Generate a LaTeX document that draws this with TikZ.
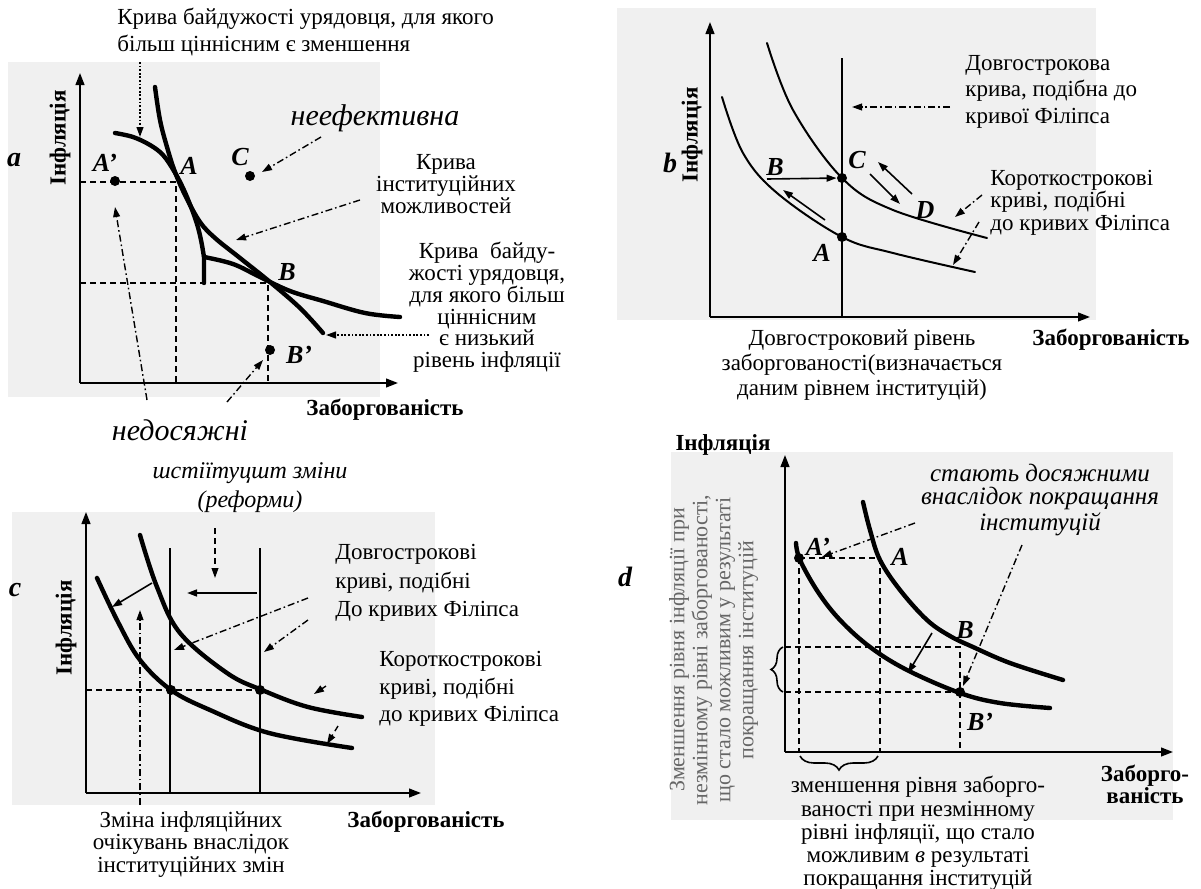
\documentclass[tikz,border=0pt]{standalone}
\usepackage{fontspec}
\setmainfont{Liberation Serif}
\usetikzlibrary{arrows.meta,decorations.pathreplacing}
\newcommand\myfs[2]{\fontsize{#1}{#2}\selectfont}
\tikzset{
  axis/.style={line width=0.9pt,-{Triangle[length=6pt,width=4.4pt]}},
  heavy/.style={line width=2.2pt,line cap=round},
  medium/.style={line width=1pt,line cap=round},
  thinl/.style={line width=0.8pt},
  dashl/.style={line width=0.7pt,dash pattern=on 3pt off 2pt},
  dashdotl/.style={line width=0.7pt,dash pattern=on 3.5pt off 1.5pt on 0.8pt off 1.5pt},
  dotl/.style={line width=0.9pt,dash pattern=on 0.9pt off 0.9pt},
  tipa/.style={-{Triangle[length=5pt,width=3.4pt]}},
  pt/.style={circle,fill=black,inner sep=0pt,minimum size=5pt},
  ptlbl/.style={font=\myfs{13}{13}\bfseries\itshape,inner sep=0pt},
  plbl/.style={font=\myfs{14}{14}\bfseries\itshape,inner sep=0pt},
  body/.style={inner sep=0pt,font=\myfs{11.5}{13.5}},
  axlbl/.style={inner sep=0pt,font=\myfs{11.5}{13}\bfseries},
  emphl/.style={inner sep=0pt,font=\myfs{15}{17}\itshape},
  paper/.style={fill=black!6,draw=none},
}
\begin{document}
\begin{tikzpicture}[x=0.5pt,y=-0.5pt]
\useasboundingbox (0,0) rectangle (1201,889);
% scanned paper
\fill[paper] (8,62) rectangle (380,397);
\fill[paper] (617,8) rectangle (1096,320);
\fill[paper] (12,512) rectangle (435,805);
\fill[paper] (671,452) rectangle (1173,820);

% ================= panel a
\node[body,anchor=west,align=left] (aTitle) at (117,31.5) {Крива байдужості урядовця, для якого\\більш ціннісним є зменшення};
\coordinate (aT1) at (140,62); \coordinate (aT2) at (140,137);
\draw[dotl,tipa] (aT1) -- (aT2);
\coordinate (aO) at (80,383); \coordinate (aY) at (80,73); \coordinate (aX) at (398,383);
\draw[axis] (aO) -- (aY);
\draw[axis] (aO) -- (aX);
\node[axlbl,rotate=90] (aYl) at (60,138) {Інфляція};
\node[plbl] (aName) at (14,160) {a};
\draw[dashl] (80,182) -- (176,182) -- (176,383);
\draw[dashl] (80,283) -- (268,283) -- (268,383);
\draw[heavy] plot[smooth,tension=0.6] coordinates {(155,87) (160,120) (167,147) (175,172) (186,197) (200,222) (215,238) (240,258) (270,282) (300,308) (323,333)};
\draw[heavy] plot[smooth,tension=0.6] coordinates {(115,133) (133,137) (150,145) (163,155) (174,171) (183,188) (191,207) (197,224) (201,240) (204,257)} -- (204,283);
\draw[heavy] plot[smooth,tension=0.6] coordinates {(204,257) (233,264) (260,277) (290,291) (323,301) (365,313) (400,317)};
\node[pt] (aAp) at (115,181) {};
\node[pt] (aC) at (250,176) {};
\node[pt] (aBp) at (270,350) {};
\node[ptlbl] (aAplbl) at (105,163) {A'};
\node[ptlbl] (aAlbl) at (189,166) {A};
\node[ptlbl] (aClbl) at (240,157) {C};
\node[ptlbl] (aBlbl) at (287,272) {B};
\node[ptlbl] (aBplbl) at (299,355) {B'};
\node[emphl] (aIneff) at (375,118) {неефективна};
\node[body,align=center,font=\myfs{11.5}{10.9}] (aIPC) at (446,184) {Крива\\інституційних\\можливостей};
\node[body,align=center,font=\myfs{11.5}{10.9}] (aIC) at (487,307.5) {Крива\ \ байду-\\жості урядовця,\\для якого більш\\ціннісним\\є низький\\рівень інфляції};
\node[axlbl] (aXl) at (385,410) {Заборгованість};
\node[emphl] (aUnr) at (180,430) {недосяжні};
\coordinate (aI1) at (321,137); \coordinate (aI2) at (262,172);
\draw[dashdotl,tipa] (aI1) -- (aI2);
\coordinate (aP1) at (360,200); \coordinate (aP2) at (236,240);
\draw[dashdotl,tipa] (aP1) -- (aP2);
\coordinate (aL1) at (429,335); \coordinate (aL2) at (326,335);
\draw[dotl,tipa] (aL1) -- (aL2);
\coordinate (aU1) at (147,400); \coordinate (aU2) at (115,207);
\draw[dashdotl,tipa] (aU1) -- (aU2);
\coordinate (aV1) at (227,402); \coordinate (aV2) at (263,360);
\draw[dashdotl,tipa] (aV1) -- (aV2);

% ================= panel b
\coordinate (bO) at (710,317); \coordinate (bY) at (710,22); \coordinate (bX) at (1090,317);
\draw[axis] (bO) -- (bY);
\draw[axis] (bO) -- (bX);
\node[axlbl,rotate=90] (bYl) at (692,135) {Інфляція};
\node[plbl] (bName) at (670,163) {b};
\coordinate (bV1) at (842,58); \coordinate (bV2) at (842,317);
\draw[line width=0.7pt] (bV1) -- (bV2);
\draw[medium] plot[smooth,tension=0.6] coordinates {(722,97) (743,153) (777,193) (842,237) (893,253) (975,272)};
\draw[medium] plot[smooth,tension=0.6] coordinates {(767,43) (793,110) (842,178) (893,210) (987,238)};
\node[pt] (bC) at (842,178) {};
\node[pt] (bA) at (842,237) {};
\node[ptlbl] (bBlbl) at (775,167) {B};
\node[ptlbl] (bClbl) at (857,160) {C};
\node[ptlbl] (bAlbl) at (822,253) {A};
\node[ptlbl] (bDlbl) at (925,210) {D};
\coordinate (bB1) at (767,179);
\draw[thinl,tipa] (bB1) -- (bC);
\coordinate (bk1) at (870,174); \coordinate (bk2) at (900,204);
\draw[thinl,tipa] (bk1) -- (bk2);
\coordinate (bk3) at (912,194); \coordinate (bk4) at (878,162);
\draw[thinl,tipa] (bk3) -- (bk4);
\coordinate (bk5) at (825,220); \coordinate (bk6) at (783,190);
\draw[thinl,tipa] (bk5) -- (bk6);
\coordinate (bL1) at (950,107); \coordinate (bL2) at (852,107);
\draw[dashdotl,tipa] (bL1) -- (bL2);
\coordinate (bS1) at (982,195); \coordinate (bS2) at (955,217);
\draw[dashdotl,tipa] (bS1) -- (bS2);
\coordinate (bS3) at (979,222); \coordinate (bS4) at (953,265);
\draw[dashdotl,tipa] (bS3) -- (bS4);
\node[body,align=left,anchor=west,font=\myfs{11.5}{13.25}] (bLR) at (965,91.7) {Довгострокова\\крива, подібна до\\кривої Філіпса};
\node[body,align=left,anchor=west,font=\myfs{11.5}{11.25}] (bSR) at (990,202.7) {Короткострокові\\криві, подібні\\до кривих Філіпса};
\node[body,align=center,font=\myfs{11.5}{12.5}] (bLev) at (862,365) {Довгостроковий рівень\\заборгованості(визначається\\даним рівнем інституцій)};
\node[axlbl] (bXl) at (1111,340) {Заборгованість};

% ================= panel c
\node[body,align=center,font=\myfs{12}{14.5}\itshape] (cRef) at (250,487.5) {шстіїтуцшт зміни\\(реформи)};
\coordinate (cO) at (86,793); \coordinate (cY) at (86,512); \coordinate (cX) at (421,793);
\draw[axis] (cO) -- (cY);
\draw[axis] (cO) -- (cX);
\node[axlbl,rotate=90] (cYl) at (66,628) {Інфляція};
\node[plbl] (cName) at (15,590) {c};
\coordinate (cL1a) at (170,548); \coordinate (cL1b) at (170,793);
\coordinate (cL2a) at (260,548); \coordinate (cL2b) at (260,793);
\draw[line width=1pt] (cL1a) -- (cL1b);
\draw[line width=1pt] (cL2a) -- (cL2b);
\draw[dashl] (86,690) -- (260,690);
\draw[heavy] plot[smooth,tension=0.6] coordinates {(97,578) (118,622) (140,660) (171,690) (210,710) (269,733) (352,748)};
\draw[heavy] plot[smooth,tension=0.6] coordinates {(140,535) (157,587) (180,633) (227,673) (262,690) (308,707) (362,717)};
\node[pt] (cP1) at (171,690) {};
\node[pt] (cP2) at (260,690) {};
\coordinate (cE1) at (140,805); \coordinate (cE2) at (140,610);
\draw[dashdotl,tipa] (cE1) -- (cE2);
\coordinate (cR1) at (215,528); \coordinate (cR2) at (215,578);
\draw[dashl,tipa] (cR1) -- (cR2);
\coordinate (cH1) at (257,593); \coordinate (cH2) at (187,593);
\draw[line width=1pt,tipa] (cH1) -- (cH2);
\coordinate (cS1) at (152,583); \coordinate (cS2) at (112,607);
\draw[thinl,tipa] (cS1) -- (cS2);
\coordinate (cD1) at (308,598); \coordinate (cD2) at (174,650);
\draw[dashdotl,tipa] (cD1) -- (cD2);
\coordinate (cD3) at (308,620); \coordinate (cD4) at (264,652);
\draw[dashdotl,tipa] (cD3) -- (cD4);
\coordinate (cK1) at (326,686); \coordinate (cK2) at (314,694);
\draw[dashl,tipa] (cK1) -- (cK2);
\coordinate (cK3) at (338,726); \coordinate (cK4) at (327,744);
\draw[dashl,tipa] (cK3) -- (cK4);
\node[body,align=left,anchor=west,font=\myfs{11.5}{14.25}] (cLR) at (335,583.3) {Довгострокові\\криві, подібні\\До кривих Філіпса};
\node[body,align=left,anchor=west,font=\myfs{11.5}{13.75}] (cSR) at (379,689) {Короткострокові\\криві, подібні\\до кривих Філіпса};
\node[body,align=center,font=\myfs{11.5}{11.25}] (cExp) at (191,844) {Зміна інфляційних\\очікувань внаслідок\\інституційних змін};
\node[axlbl] (cXl) at (426,822) {Заборгованість};

% ================= panel d
\coordinate (dO) at (785,752); \coordinate (dY) at (785,455); \coordinate (dX) at (1173,752);
\draw[axis] (dO) -- (dY);
\draw[axis] (dO) -- (dX);
\node[axlbl] (dYl) at (723,445) {Інфляція};
\node[plbl] (dName) at (625,577) {d};
\node[inner sep=0pt,rotate=90,align=center,text=black!60,font=\myfs{11}{11.5}] (dVert) at (713.5,650) {Зменшення рівня інфляції при\\незмінному рівні заборгованості,\\що стало можливим у результаті\\покращання інституцій};
\draw[dashl] (799,558) -- (880,558);
\draw[dashl] (799,558) -- (799,752);
\draw[dashl] (880,558) -- (880,752);
\draw[dashl] (785,647) -- (960,647) -- (960,752);
\draw[dashl] (785,692) -- (960,692);
\draw[heavy] plot[smooth,tension=0.6] coordinates {(796,543) (800,560) (818,592) (840,620) (870,647) (907,670) (960,693) (1000,703) (1050,708)};
\draw[heavy] plot[smooth,tension=0.6] coordinates {(863,502) (870,530) (880,560) (900,590) (927,620) (950,636) (973,647) (1010,663) (1063,680)};
\node[pt] (dAp) at (799,558) {};
\node[pt] (dBp) at (960,692) {};
\node[ptlbl] (dAplbl) at (818,547) {A'};
\node[ptlbl] (dAlbl) at (900,557) {A};
\node[ptlbl] (dBlbl) at (965,630) {B};
\node[ptlbl] (dBplbl) at (980,722) {B'};
\coordinate (dM1) at (932,633); \coordinate (dM2) at (908,673);
\draw[thinl,tipa] (dM1) -- (dM2);
\coordinate (dN1) at (915,523); \coordinate (dN2) at (822,557);
\draw[dashdotl,tipa] (dN1) -- (dN2);
\coordinate (dN3) at (1022,545); \coordinate (dN4) at (963,686);
\draw[dashdotl,tipa] (dN3) -- (dN4);
\coordinate (dBr1) at (783,692); \coordinate (dBr2) at (783,647);
\draw[line width=0.8pt,decorate,decoration={brace,amplitude=6pt}] (dBr1) -- (dBr2);
\coordinate (dBr3) at (878,756); \coordinate (dBr4) at (800,756);
\draw[line width=0.8pt,decorate,decoration={brace,amplitude=7pt}] (dBr3) -- (dBr4);
\node[inner sep=0pt,align=center,font=\myfs{12.5}{11.5}\itshape] (dReach) at (1040,500) {стають досяжними\\внаслідок покращання\\інституцій};
\node[body,align=center,font=\myfs{11.5}{11.6}] (dRed) at (918,833.5) {зменшення рівня заборго-\\ваності при незмінному\\рівні інфляції, що стало\\можливим \textit{в} результаті\\покращання інституцій};
\node[axlbl,align=center,font=\myfs{11.5}{11}\bfseries] (dXl) at (1145,784) {Заборго-\\ваність};
\end{tikzpicture}
\end{document}
